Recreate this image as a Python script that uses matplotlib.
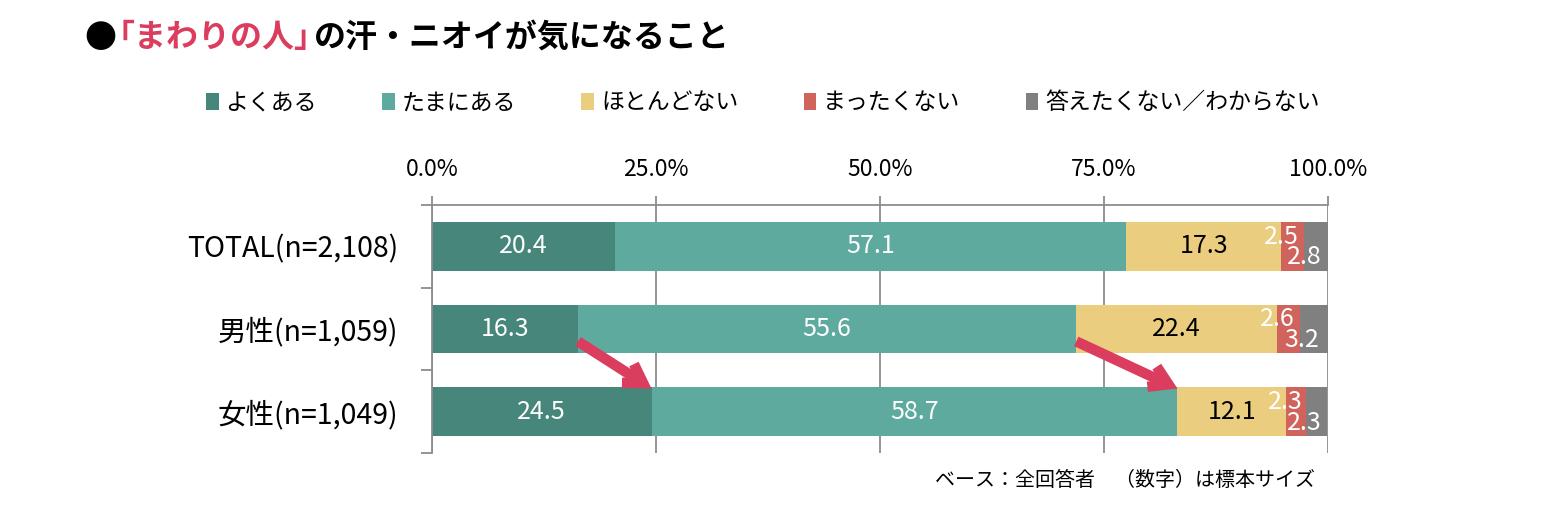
import matplotlib.pyplot as plt
from matplotlib.patches import Patch
from matplotlib.ticker import FixedLocator

plt.rcParams['font.family'] = ['Noto Sans CJK JP', 'DejaVu Sans']

# データ
categories = ['TOTAL(n=2,108)', '男性(n=1,059)', '女性(n=1,049)']
answers = ['よくある', 'たまにある', 'ほとんどない', 'まったくない', '答えたくない／わからない']
yoku = [20.4, 16.3, 24.5]
tamani = [57.1, 55.6, 58.7]
hotondo = [17.3, 22.4, 12.1]
mattaku = [2.5, 2.6, 2.3]
wakaranai = [2.8, 3.2, 2.3]
series = [yoku, tamani, hotondo, mattaku, wakaranai]
x_ticks = [0, 25, 50, 75, 100]

colors = ['#47877B', '#5FAA9F', '#EACD7F', '#D0635B', '#808080']
label_colors = ['white', 'white', 'black', 'white', 'white']
# 小さい値のラベルは重ならないようにずらす (points)
label_offsets = [(0, 0), (0, 0), (0, 0), (-8, 7), (-9, -8)]
grid_col = '#8C8C8C'
accent = '#DB3D5E'

fig = plt.figure(figsize=(15.6, 5.13), dpi=100)
ax = fig.add_axes([432 / 1560, 60 / 513, 896 / 1560, 248 / 513])

ypos = list(range(len(categories)))
left = [0.0] * len(categories)
for vals, col, lc, off in zip(series, colors, label_colors, label_offsets):
    bars = ax.barh(ypos, vals, left=left, height=0.59, color=col, zorder=2)
    for b, v in zip(bars, vals):
        cx = b.get_x() + b.get_width() / 2
        cy = b.get_y() + b.get_height() / 2
        ax.annotate(f'{v:.1f}', (cx, cy), xytext=off, textcoords='offset points',
                    ha='center', va='center', color=lc, fontsize=18, zorder=4)
    left = [l + v for l, v in zip(left, vals)]

# 矢印 (男性 → 女性 の境界)
male_b1 = yoku[1]
fem_b1 = yoku[2]
male_b2 = yoku[1] + tamani[1]
fem_b2 = yoku[2] + tamani[2]
for x0, x1 in [(male_b1, fem_b1), (male_b2, fem_b2)]:
    ax.annotate('', xy=(x1, 1.72), xytext=(x0, 1.15),
                arrowprops=dict(arrowstyle='->,head_length=1.3,head_width=0.8',
                                lw=7.5, color=accent, shrinkA=0, shrinkB=0,
                                joinstyle='miter', capstyle='butt'),
                zorder=5)

ax.set_xlim(0, 100)
ax.set_ylim(2.5, -0.5)
ax.set_yticks(ypos)
ax.set_yticklabels(categories, fontsize=20.5)
ax.yaxis.set_minor_locator(FixedLocator([-0.5, 0.5, 1.5, 2.5]))
ax.tick_params(axis='y', which='major', length=0, pad=24)
ax.tick_params(axis='y', which='minor', length=8, width=1.3, color=grid_col)

ax.xaxis.tick_top()
ax.set_xticks(x_ticks)
ax.set_xticklabels([f'{t:.1f}%' for t in x_ticks], fontsize=16.5)
ax.tick_params(axis='x', length=6.5, width=1.3, color=grid_col, pad=11)
ax.grid(axis='x', color=grid_col, linewidth=1.3, zorder=0)

for s in ['right', 'bottom']:
    ax.spines[s].set_visible(False)
for s in ['top', 'left']:
    ax.spines[s].set_color(grid_col)
    ax.spines[s].set_linewidth(1.3)

# 凡例
handles = [Patch(facecolor=c, edgecolor='none') for c in colors]
fig.legend(handles, answers, loc='center left', bbox_to_anchor=(206 / 1560, 1 - 103 / 513),
           ncol=5, frameon=False, fontsize=16.5, handlelength=0.55, handleheight=0.75,
           handletextpad=0.3, columnspacing=2.85, borderpad=0, borderaxespad=0)

# タイトル (部分的に色付け)
renderer = fig.canvas.get_renderer()
W = fig.get_figwidth() * fig.dpi
tx = 84
parts = [('●', 'black', 0), ('｢まわりの人｣', accent, 3), ('の汗・ニオイが気になること', 'black', 3)]
for txt, col, gap in parts:
    tx += gap
    t = fig.text(tx / W, 1 - 38 / 513, txt, color=col, fontsize=23, fontweight='bold',
                 ha='left', va='center')
    tx = t.get_window_extent(renderer=renderer).x1

fig.text(1315 / 1560, 1 - 480 / 513, 'ベース：全回答者　（数字）は標本サイズ',
         fontsize=14.4, ha='right', va='center')

fig.savefig('out.png', dpi=100)
